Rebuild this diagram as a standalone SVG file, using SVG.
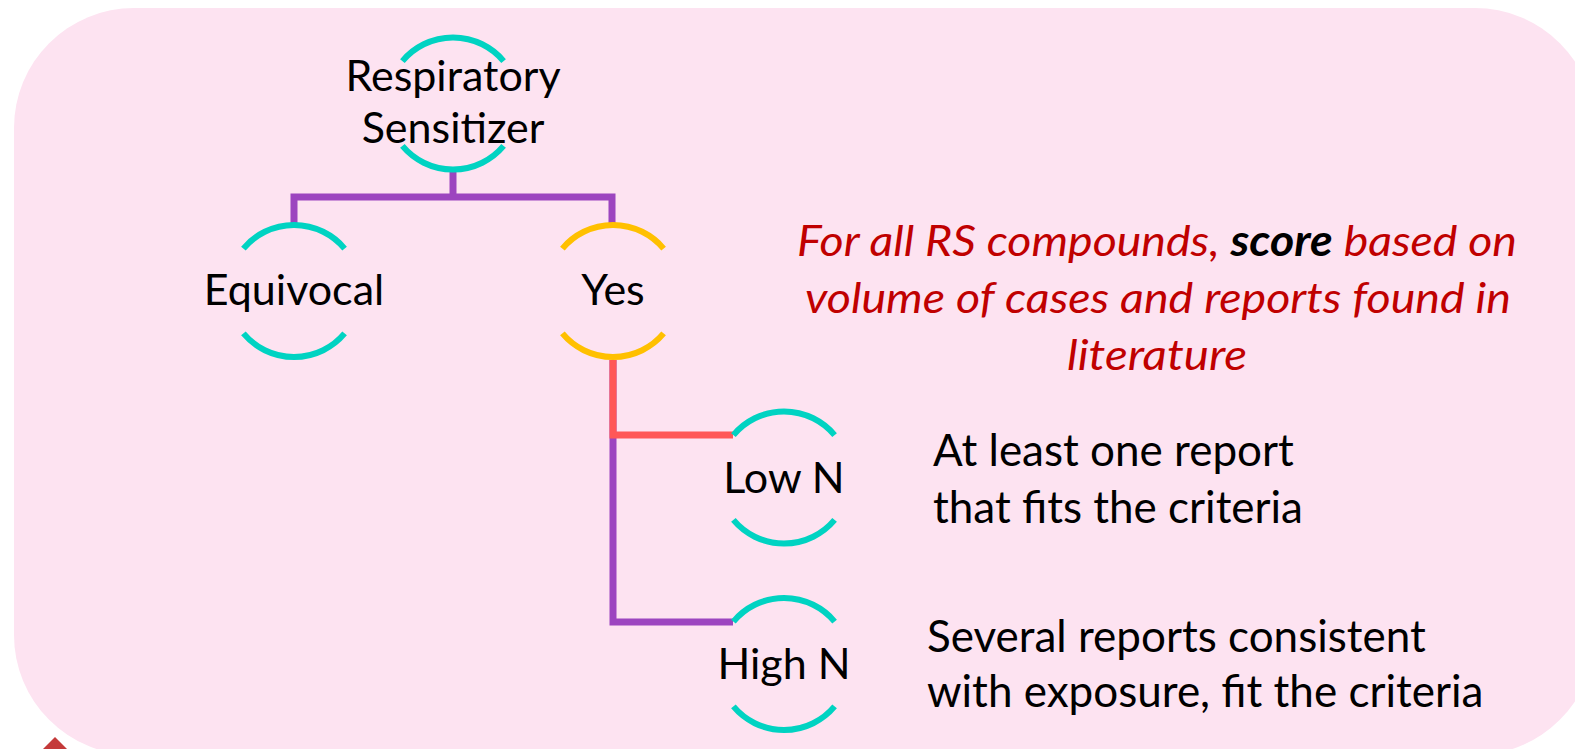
<svg xmlns="http://www.w3.org/2000/svg" width="1575" height="749" viewBox="0 0 1575 749">
  <style>
    .panel { fill: #FDE3F1; }
    .ring { fill: none; stroke-width: 6; }
    .teal { stroke: #00D3C2; }
    .gold { stroke: #FFC000; }
    .link { fill: none; stroke-width: 7; stroke-linejoin: miter; stroke-linecap: butt; }
    .purple { stroke: #9C45BF; }
    .coral { stroke: #FF5757; }
    .label { font-family: Lato, "Liberation Sans", sans-serif; font-size: 43px; fill: #000; text-anchor: middle; }
    .note { font-family: Lato, "Liberation Sans", sans-serif; font-size: 44px; fill: #000; }
    .remark { font-family: Lato, "Liberation Sans", sans-serif; font-size: 43px; font-style: italic; fill: #C00000; text-anchor: middle; }
    .remark .key { fill: #000; font-weight: bold; }
  </style>
  <defs>
    <!-- open ring: two arcs of r=66, each spanning 100 degrees about the vertical -->
    <g id="ringShape">
      <path d="M -50.6 -42.4 A 66 66 0 0 1 50.6 -42.4"/>
      <path d="M -50.6 42.4 A 66 66 0 0 0 50.6 42.4"/>
    </g>
  </defs>

  <!-- background panel -->
  <rect class="panel" x="14" y="8" width="1581" height="747" rx="120" ry="120"/>
  <path d="M55 737 L68 750 L42 750 Z" fill="#C43A3A"/>

  <g id="connectors">
    <path class="link purple" d="M453 170 V197"/>
    <path class="link purple" d="M294 224 V197 H453"/>
    <path class="link purple" d="M453 197 H612 V224"/>
    <path class="link purple" d="M613 360 V622 H733"/>
    <path class="link coral" d="M613 360 V435 H733"/>
  </g>

  <g id="node-respiratory">
    <use href="#ringShape" class="ring teal" transform="translate(453 103.5)"/>
    <text class="label" x="453" y="91">Respiratory</text>
    <text class="label" x="453" y="143">Sensitizer</text>
  </g>

  <g id="node-equivocal">
    <use href="#ringShape" class="ring teal" transform="translate(294 291)"/>
    <text class="label" x="294" y="305">Equivocal</text>
  </g>

  <g id="node-yes">
    <use href="#ringShape" class="ring gold" transform="translate(613 291)"/>
    <text class="label" x="613" y="305">Yes</text>
  </g>

  <g id="node-low">
    <use href="#ringShape" class="ring teal" transform="translate(784 477.5)"/>
    <text class="label" x="784" y="493">Low N</text>
  </g>

  <g id="node-high">
    <use href="#ringShape" class="ring teal" transform="translate(784 664)"/>
    <text class="label" x="784" y="679">High N</text>
  </g>

  <g id="scoring-note">
    <text class="remark" x="1157" y="256" textLength="720" lengthAdjust="spacingAndGlyphs">For all RS compounds, <tspan class="key">score</tspan> based on</text>
    <text class="remark" x="1158" y="313" textLength="706" lengthAdjust="spacingAndGlyphs">volume of cases and reports found in</text>
    <text class="remark" x="1157" y="370" textLength="180" lengthAdjust="spacingAndGlyphs">literature</text>
  </g>

  <g id="low-note">
    <text class="note" x="933" y="466">At least one report</text>
    <text class="note" x="933" y="523">that fits the criteria</text>
  </g>

  <g id="high-note">
    <text class="note" x="927" y="652">Several reports consistent</text>
    <text class="note" x="927" y="707">with exposure, fit the criteria</text>
  </g>
</svg>
